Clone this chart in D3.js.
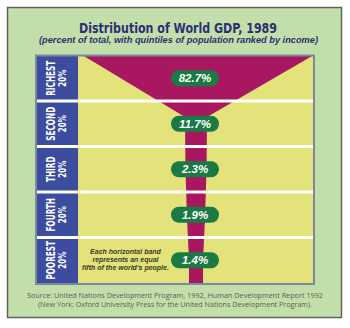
<!DOCTYPE html>
<html><head><meta charset="utf-8">
<script src="https://cdn.jsdelivr.net/npm/d3@7"></script>
<style>html,body{margin:0;padding:0;background:#fff;}svg{display:block;}</style>
</head><body>
<script>
// ---- data ----
const categories = ["RICHEST", "SECOND", "THIRD", "FOURTH", "POOREST"];
const shares = [82.7, 11.7, 2.3, 1.9, 1.4];
const quintileShare = "20%";
const titleText = "Distribution of World GDP, 1989";
const subtitleText = "(percent of total, with quintiles of population ranked by income)";
const noteLines = ["Each horizontal band", "represents an equal", "fifth of the world's people."];
const sourceLines = [
  "Source: United Nations Development Program, 1992, Human Development Report 1992",
  "(New York: Oxford University Press for the United Nations Development Program)."
];

// ---- layout ----
const W = 350, H = 328;
const chart = {x0: 36, x1: 313, y0: 55.5, y1: 283};
const labelW = 42;
const C = {panel: "#c3dfa9", yellow: "#e3e27b", magenta: "#a8175f", blue: "#3c4d9f",
  pill: "#1b7a44", title: "#2c2f72", border: "#7b89a1", source: "#5c5c5c"};
const condensed = "'Liberation Sans Narrow','DejaVu Sans Condensed','Roboto Condensed',sans-serif";
const sans = "'Liberation Sans',Arial,sans-serif";

const svg = d3.select("body").append("svg").attr("width", W).attr("height", H);
svg.append("rect").attr("width", W).attr("height", H).attr("fill", "#fff");
svg.append("rect").attr("x", 7.5).attr("y", 7.5).attr("width", 334).attr("height", 310)
  .attr("fill", C.panel).attr("stroke", "#5e625e").attr("stroke-width", 1.5);

svg.append("text").attr("x", 178).attr("y", 33).attr("text-anchor", "middle")
  .attr("font-family", condensed).attr("font-stretch", "condensed").attr("font-weight", "bold")
  .attr("font-size", 14.5).attr("fill", C.title)
  .attr("textLength", 198).attr("lengthAdjust", "spacingAndGlyphs").text(titleText);
svg.append("text").attr("x", 178.5).attr("y", 42.5).attr("text-anchor", "middle")
  .attr("font-family", sans).attr("font-weight", "bold").attr("font-style", "italic")
  .attr("font-size", 8.6).attr("fill", C.title)
  .attr("textLength", 279).attr("lengthAdjust", "spacingAndGlyphs").text(subtitleText);

// scales
const y = d3.scaleBand().domain(categories).range([chart.y0, chart.y1]).padding(0);
const plotX0 = chart.x0 + labelW;
const xc = 196;
// stylised stem width for each share (piecewise log scale)
const stemW = d3.scaleLog().domain([1.4, 2.3, 11.7]).range([14, 21, 22]);

// background
svg.append("rect").attr("x", plotX0).attr("y", chart.y0).attr("width", chart.x1 - plotX0)
  .attr("height", chart.y1 - chart.y0).attr("fill", C.yellow);
svg.append("rect").attr("x", chart.x0).attr("y", chart.y0).attr("width", labelW)
  .attr("height", chart.y1 - chart.y0).attr("fill", C.blue);

// funnel ("champagne glass")
const cupTopL = plotX0 + 5, cupTopR = chart.x1;
const cupBottomY = y(categories[1]) + y.bandwidth() * 0.35;
const right = [], left = [];
right.push([cupTopR, chart.y0]);
left.push([cupTopL, chart.y0]);
right.push([xc + stemW(shares[1]) / 2, cupBottomY]);
left.push([xc - stemW(shares[1]) / 2, cupBottomY]);
for (let i = 2; i < categories.length; i++) {
  const yy = y(categories[i]) + y.bandwidth() / 2;
  right.push([xc + stemW(shares[i]) / 2, yy]);
  left.push([xc - stemW(shares[i]) / 2, yy]);
}
const last = shares[shares.length - 1];
right.push([xc + stemW(last) / 2, chart.y1]);
left.push([xc - stemW(last) / 2, chart.y1]);
const poly = right.concat(left.reverse());
svg.append("path").attr("d", d3.line()(poly) + "Z").attr("fill", C.magenta);

// separators
categories.slice(1).forEach(c => {
  svg.append("line").attr("x1", chart.x0).attr("x2", chart.x1)
    .attr("y1", y(c)).attr("y2", y(c)).attr("stroke", "#fff").attr("stroke-width", 3);
});

// band labels (condensed by measuring, so RICHEST is ~35px long)
const nameTexts = [], pctTexts = [];
categories.forEach(c => {
  const yc = y(c) + y.bandwidth() / 2;
  nameTexts.push(svg.append("text").attr("transform", `translate(55,${yc}) rotate(-90)`)
    .attr("text-anchor", "middle").attr("font-family", condensed).attr("font-stretch", "condensed")
    .attr("font-weight", "bold").attr("font-size", 11.5).attr("fill", "#fff").text(c));
  pctTexts.push(svg.append("text").attr("transform", `translate(66,${yc}) rotate(-90)`)
    .attr("text-anchor", "middle").attr("font-family", condensed).attr("font-stretch", "condensed")
    .attr("font-weight", "bold").attr("font-size", 10.5).attr("fill", "#fff").text(quintileShare));
});
const k = 35 / nameTexts[0].node().getComputedTextLength();
nameTexts.forEach(t => t.attr("textLength", t.node().getComputedTextLength() * k)
  .attr("lengthAdjust", "spacingAndGlyphs"));
pctTexts.forEach(t => t.attr("textLength", 17).attr("lengthAdjust", "spacingAndGlyphs"));

// pills
categories.forEach((c, i) => {
  const yc = y(c) + y.bandwidth() / 2;
  svg.append("rect").attr("x", xc - 1 - 24).attr("y", yc - 8).attr("width", 48).attr("height", 16)
    .attr("rx", 8).attr("fill", C.pill);
  svg.append("text").attr("x", xc - 1).attr("y", yc + 4).attr("text-anchor", "middle")
    .attr("font-family", sans).attr("font-style", "italic").attr("font-weight", "bold")
    .attr("font-size", 11.5).attr("fill", "#fff").text(shares[i] + "%");
});

// note
const lastBand = y(categories[categories.length - 1]);
noteLines.forEach((t, i) => {
  svg.append("text").attr("x", 125.5).attr("y", lastBand + 16 + i * 8).attr("text-anchor", "middle")
    .attr("font-family", sans).attr("font-style", "italic").attr("font-weight", "bold")
    .attr("font-size", 7).attr("fill", "#3a3a2a").text(t);
});

// chart frame
svg.append("rect").attr("x", chart.x0).attr("y", chart.y0).attr("width", chart.x1 - chart.x0 + 1)
  .attr("height", chart.y1 - chart.y0 + 1).attr("fill", "none")
  .attr("stroke", C.border).attr("stroke-width", 2);

// source
const srcLens = [296, 274];
sourceLines.forEach((t, i) => {
  svg.append("text").attr("x", 175).attr("y", 297.5 + i * 9).attr("text-anchor", "middle")
    .attr("font-family", "'Open Sans','Noto Sans',sans-serif").attr("font-size", 7.2)
    .attr("fill", C.source).attr("textLength", srcLens[i]).attr("lengthAdjust", "spacingAndGlyphs").text(t);
});
</script>
</body></html>
